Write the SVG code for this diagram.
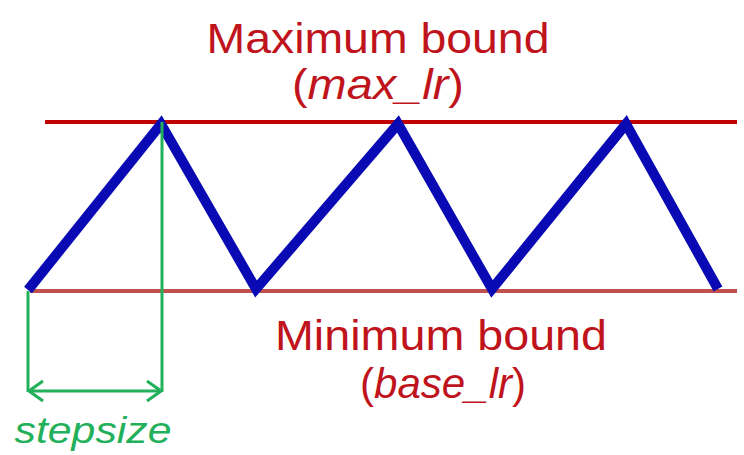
<svg xmlns="http://www.w3.org/2000/svg" width="744" height="455" viewBox="0 0 744 455">
<defs>
<style>
.lbl{font-family:"Liberation Sans",Arial,sans-serif;fill:#c0141c;font-size:43px;text-anchor:middle}
.it{font-style:italic}
.green{stroke:#22b05a;stroke-width:3;fill:none}
</style>
<marker id="chev" viewBox="0 0 16 24" refX="15" refY="12" markerWidth="16" markerHeight="24" markerUnits="userSpaceOnUse" orient="auto-start-reverse">
<path d="M1,2 L15,12 L1,22" fill="none" stroke="#22b05a" stroke-width="3"/>
</marker>
</defs>
<rect width="744" height="455" fill="#fff"/>
<g id="max-bound">
<line x1="45" y1="122" x2="737" y2="122" stroke="#c00000" stroke-width="4"/>
<text class="lbl" x="378" y="53" textLength="343" lengthAdjust="spacingAndGlyphs">Maximum bound</text>
<text class="lbl" x="378" y="99" textLength="172" lengthAdjust="spacingAndGlyphs">(<tspan class="it">max_lr</tspan>)</text>
</g>
<g id="min-bound">
<line x1="30" y1="291" x2="737" y2="291" stroke="#c0504d" stroke-width="4"/>
<text class="lbl" x="441" y="350" textLength="332" lengthAdjust="spacingAndGlyphs">Minimum bound</text>
<text class="lbl" x="443" y="398" textLength="166" lengthAdjust="spacingAndGlyphs">(<tspan class="it">base_lr</tspan>)</text>
</g>
<g id="lr-wave">
<polyline points="28,290 161,124 256,289 398,124 492,289 626,124 718,289" fill="none" stroke="#0a0ab4" stroke-width="10" stroke-linejoin="miter"/>
</g>
<g id="connectors">
<line class="green" x1="162" y1="122" x2="162" y2="392"/>
<line class="green" x1="28" y1="291" x2="28" y2="392"/>
<line class="green" x1="29" y1="391" x2="161" y2="391" marker-start="url(#chev)" marker-end="url(#chev)"/>
</g>
<g id="stepsize">
<text x="93" y="443" font-family="'Liberation Sans',Arial,sans-serif" font-size="36" font-style="italic" fill="#22b05a" text-anchor="middle" textLength="157" lengthAdjust="spacingAndGlyphs">stepsize</text>
</g>
</svg>
